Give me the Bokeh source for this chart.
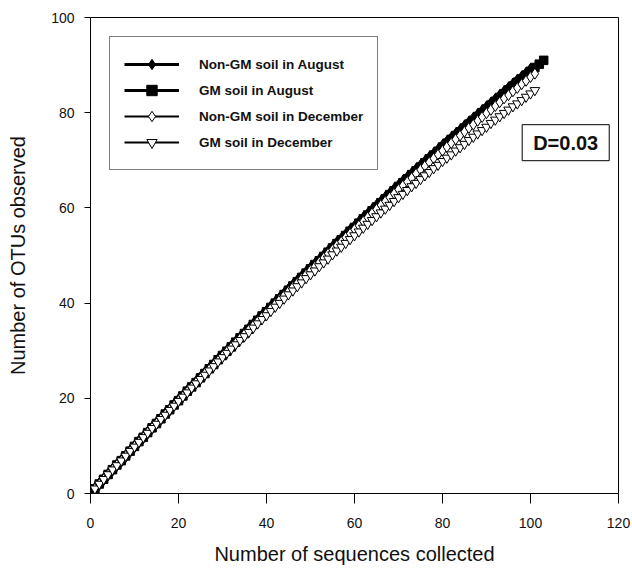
from bokeh.plotting import figure
from bokeh.models import Legend, LegendItem, Label, FixedTicker, Range1d
from bokeh.embed import file_html
from bokeh.resources import INLINE

# OTUs observed vs number of sequences collected (one value per sequence count, starting at 1)
nongm_aug = [1.0, 2.0, 3.0, 4.0, 5.0, 6.0, 6.9, 7.9, 8.9, 9.9,
             10.9, 11.8, 12.8, 13.8, 14.8, 15.7, 16.7, 17.6, 18.6, 19.6,
             20.5, 21.5, 22.4, 23.4, 24.3, 25.3, 26.2, 27.1, 28.1, 29.0,
             29.9, 30.9, 31.8, 32.7, 33.7, 34.6, 35.5, 36.4, 37.3, 38.2,
             39.2, 40.1, 41.0, 41.9, 42.8, 43.7, 44.6, 45.5, 46.4, 47.3,
             48.1, 49.0, 49.9, 50.8, 51.7, 52.6, 53.4, 54.3, 55.2, 56.0,
             56.9, 57.8, 58.6, 59.5, 60.4, 61.2, 62.1, 62.9, 63.8, 64.6,
             65.5, 66.3, 67.1, 68.0, 68.8, 69.6, 70.5, 71.3, 72.1, 73.0,
             73.8, 74.6, 75.4, 76.2, 77.1, 77.9, 78.7, 79.5, 80.3, 81.1,
             81.9, 82.7, 83.5, 84.3, 85.1, 85.9, 86.7, 87.4, 88.2, 89.0]
gm_aug = [1.0, 2.0, 3.0, 4.0, 5.0, 6.0, 6.9, 7.9, 8.9, 9.9,
          10.9, 11.8, 12.8, 13.8, 14.7, 15.7, 16.7, 17.6, 18.6, 19.5,
          20.5, 21.5, 22.4, 23.3, 24.3, 25.2, 26.2, 27.1, 28.1, 29.0,
          29.9, 30.8, 31.8, 32.7, 33.6, 34.5, 35.5, 36.4, 37.3, 38.2,
          39.1, 40.0, 40.9, 41.8, 42.7, 43.6, 44.5, 45.4, 46.3, 47.2,
          48.1, 48.9, 49.8, 50.7, 51.6, 52.5, 53.3, 54.2, 55.1, 55.9,
          56.8, 57.7, 58.5, 59.4, 60.2, 61.1, 61.9, 62.8, 63.6, 64.5,
          65.3, 66.1, 67.0, 67.8, 68.6, 69.5, 70.3, 71.1, 71.9, 72.8,
          73.6, 74.4, 75.2, 76.0, 76.8, 77.6, 78.4, 79.2, 80.0, 80.8,
          81.6, 82.4, 83.2, 84.0, 84.8, 85.6, 86.4, 87.1, 87.9, 88.7,
          89.5, 90.2, 91.0]
nongm_dec = [1.0, 2.0, 3.0, 4.0, 5.0, 6.0, 6.9, 7.9, 8.9, 9.9,
             10.8, 11.8, 12.8, 13.8, 14.7, 15.7, 16.6, 17.6, 18.5, 19.5,
             20.4, 21.4, 22.3, 23.3, 24.2, 25.2, 26.1, 27.0, 27.9, 28.9,
             29.8, 30.7, 31.6, 32.6, 33.5, 34.4, 35.3, 36.2, 37.1, 38.0,
             38.9, 39.8, 40.7, 41.6, 42.5, 43.4, 44.2, 45.1, 46.0, 46.9,
             47.7, 48.6, 49.5, 50.4, 51.2, 52.1, 52.9, 53.8, 54.6, 55.5,
             56.3, 57.2, 58.0, 58.9, 59.7, 60.6, 61.4, 62.2, 63.0, 63.9,
             64.7, 65.5, 66.3, 67.2, 68.0, 68.8, 69.6, 70.4, 71.2, 72.0,
             72.8, 73.6, 74.4, 75.2, 76.0, 76.8, 77.5, 78.3, 79.1, 79.9,
             80.6, 81.4, 82.2, 83.0, 83.7, 84.5, 85.2, 86.0, 86.7, 87.5,
             88.2]
gm_dec = [1.0, 2.0, 3.0, 4.0, 5.0, 5.9, 6.9, 7.9, 8.9, 9.8,
          10.8, 11.8, 12.7, 13.7, 14.6, 15.6, 16.5, 17.5, 18.4, 19.4,
          20.3, 21.2, 22.2, 23.1, 24.0, 24.9, 25.8, 26.7, 27.7, 28.6,
          29.5, 30.4, 31.3, 32.2, 33.0, 33.9, 34.8, 35.7, 36.6, 37.4,
          38.3, 39.2, 40.0, 40.9, 41.8, 42.6, 43.5, 44.3, 45.2, 46.0,
          46.8, 47.7, 48.5, 49.3, 50.2, 51.0, 51.8, 52.6, 53.4, 54.2,
          55.0, 55.8, 56.6, 57.4, 58.2, 59.0, 59.8, 60.6, 61.4, 62.2,
          62.9, 63.7, 64.5, 65.2, 66.0, 66.8, 67.5, 68.3, 69.0, 69.8,
          70.5, 71.2, 72.0, 72.7, 73.4, 74.2, 74.9, 75.6, 76.3, 77.0,
          77.8, 78.5, 79.2, 79.9, 80.6, 81.3, 81.9, 82.6, 83.3, 84.0,
          84.7]

series_labels = ["Non-GM soil in August", "GM soil in August",
                 "Non-GM soil in December", "GM soil in December"]
x_ticks = [0, 20, 40, 60, 80, 100, 120]
y_ticks = [0, 20, 40, 60, 80, 100]
annotation_text = "D=0.03"

FONT = "Liberation Sans"

p = figure(width=630, height=569, x_range=Range1d(0, 120), y_range=Range1d(0, 100),
           output_backend="svg", toolbar_location=None,
           min_border_left=90, min_border_right=12, min_border_top=17, min_border_bottom=76)
p.background_fill_color = "white"
p.border_fill_color = "white"
p.outline_line_color = "black"
p.outline_line_width = 1
p.xgrid.visible = False
p.ygrid.visible = False

for ax, ticks in ((p.xaxis, x_ticks), (p.yaxis, y_ticks)):
    ax.ticker = FixedTicker(ticks=ticks)
    ax.axis_line_color = "black"
    ax.major_tick_line_color = "black"
    ax.minor_tick_line_color = None
    ax.major_tick_in = 0
    ax.major_label_text_font = FONT
    ax.major_label_text_font_size = "14px"
    ax.major_label_text_color = "#111111"
    ax.axis_label_text_font = FONT
    ax.axis_label_text_font_size = "20px"
    ax.axis_label_text_font_style = "normal"
    ax.axis_label_text_color = "#111111"

p.xaxis.major_tick_out = 10
p.yaxis.major_tick_out = 6
p.xaxis.major_label_standoff = 14
p.yaxis.major_label_standoff = 10
p.xaxis.axis_label = "Number of sequences collected"
p.yaxis.axis_label = "Number of OTUs observed"
p.xaxis.axis_label_standoff = 12
p.yaxis.axis_label_standoff = 19

specs = [
    (nongm_aug, "diamond", 13, "black", 3),
    (gm_aug, "square", 8.5, "black", 3),
    (nongm_dec, "diamond", 11, "white", 2),
    (gm_dec, "inverted_triangle", 9.5, "white", 2),
]

items = []
for (ys, marker, size, fill, lw), lab in zip(specs, series_labels):
    xs = list(range(1, len(ys) + 1))
    rl = p.line(xs, ys, line_color="black", line_width=lw)
    rs = p.scatter(xs, ys, marker=marker, size=size, fill_color=fill,
                   line_color="black", line_width=1)
    items.append(LegendItem(label=lab, renderers=[rl, rs]))

legend = Legend(items=items, location="top_left", margin=19, padding=14, spacing=0,
                glyph_height=26, glyph_width=55, label_standoff=20,
                label_text_font=FONT, label_text_font_style="bold",
                label_text_font_size="13.5px", label_text_color="#111111",
                border_line_color="black", border_line_width=1,
                background_fill_color="white", background_fill_alpha=1)
p.add_layout(legend)

lbl = Label(x=108, y=73.7, text=annotation_text, text_align="center", text_baseline="middle",
            text_font=FONT, text_font_style="bold", text_font_size="20px",
            text_color="#111111", border_line_color="black", border_line_width=1,
            background_fill_color="white", padding=dict(left=11, right=11, top=7, bottom=7))
p.add_layout(lbl)

open("out.html", "w").write(file_html(p, INLINE))
